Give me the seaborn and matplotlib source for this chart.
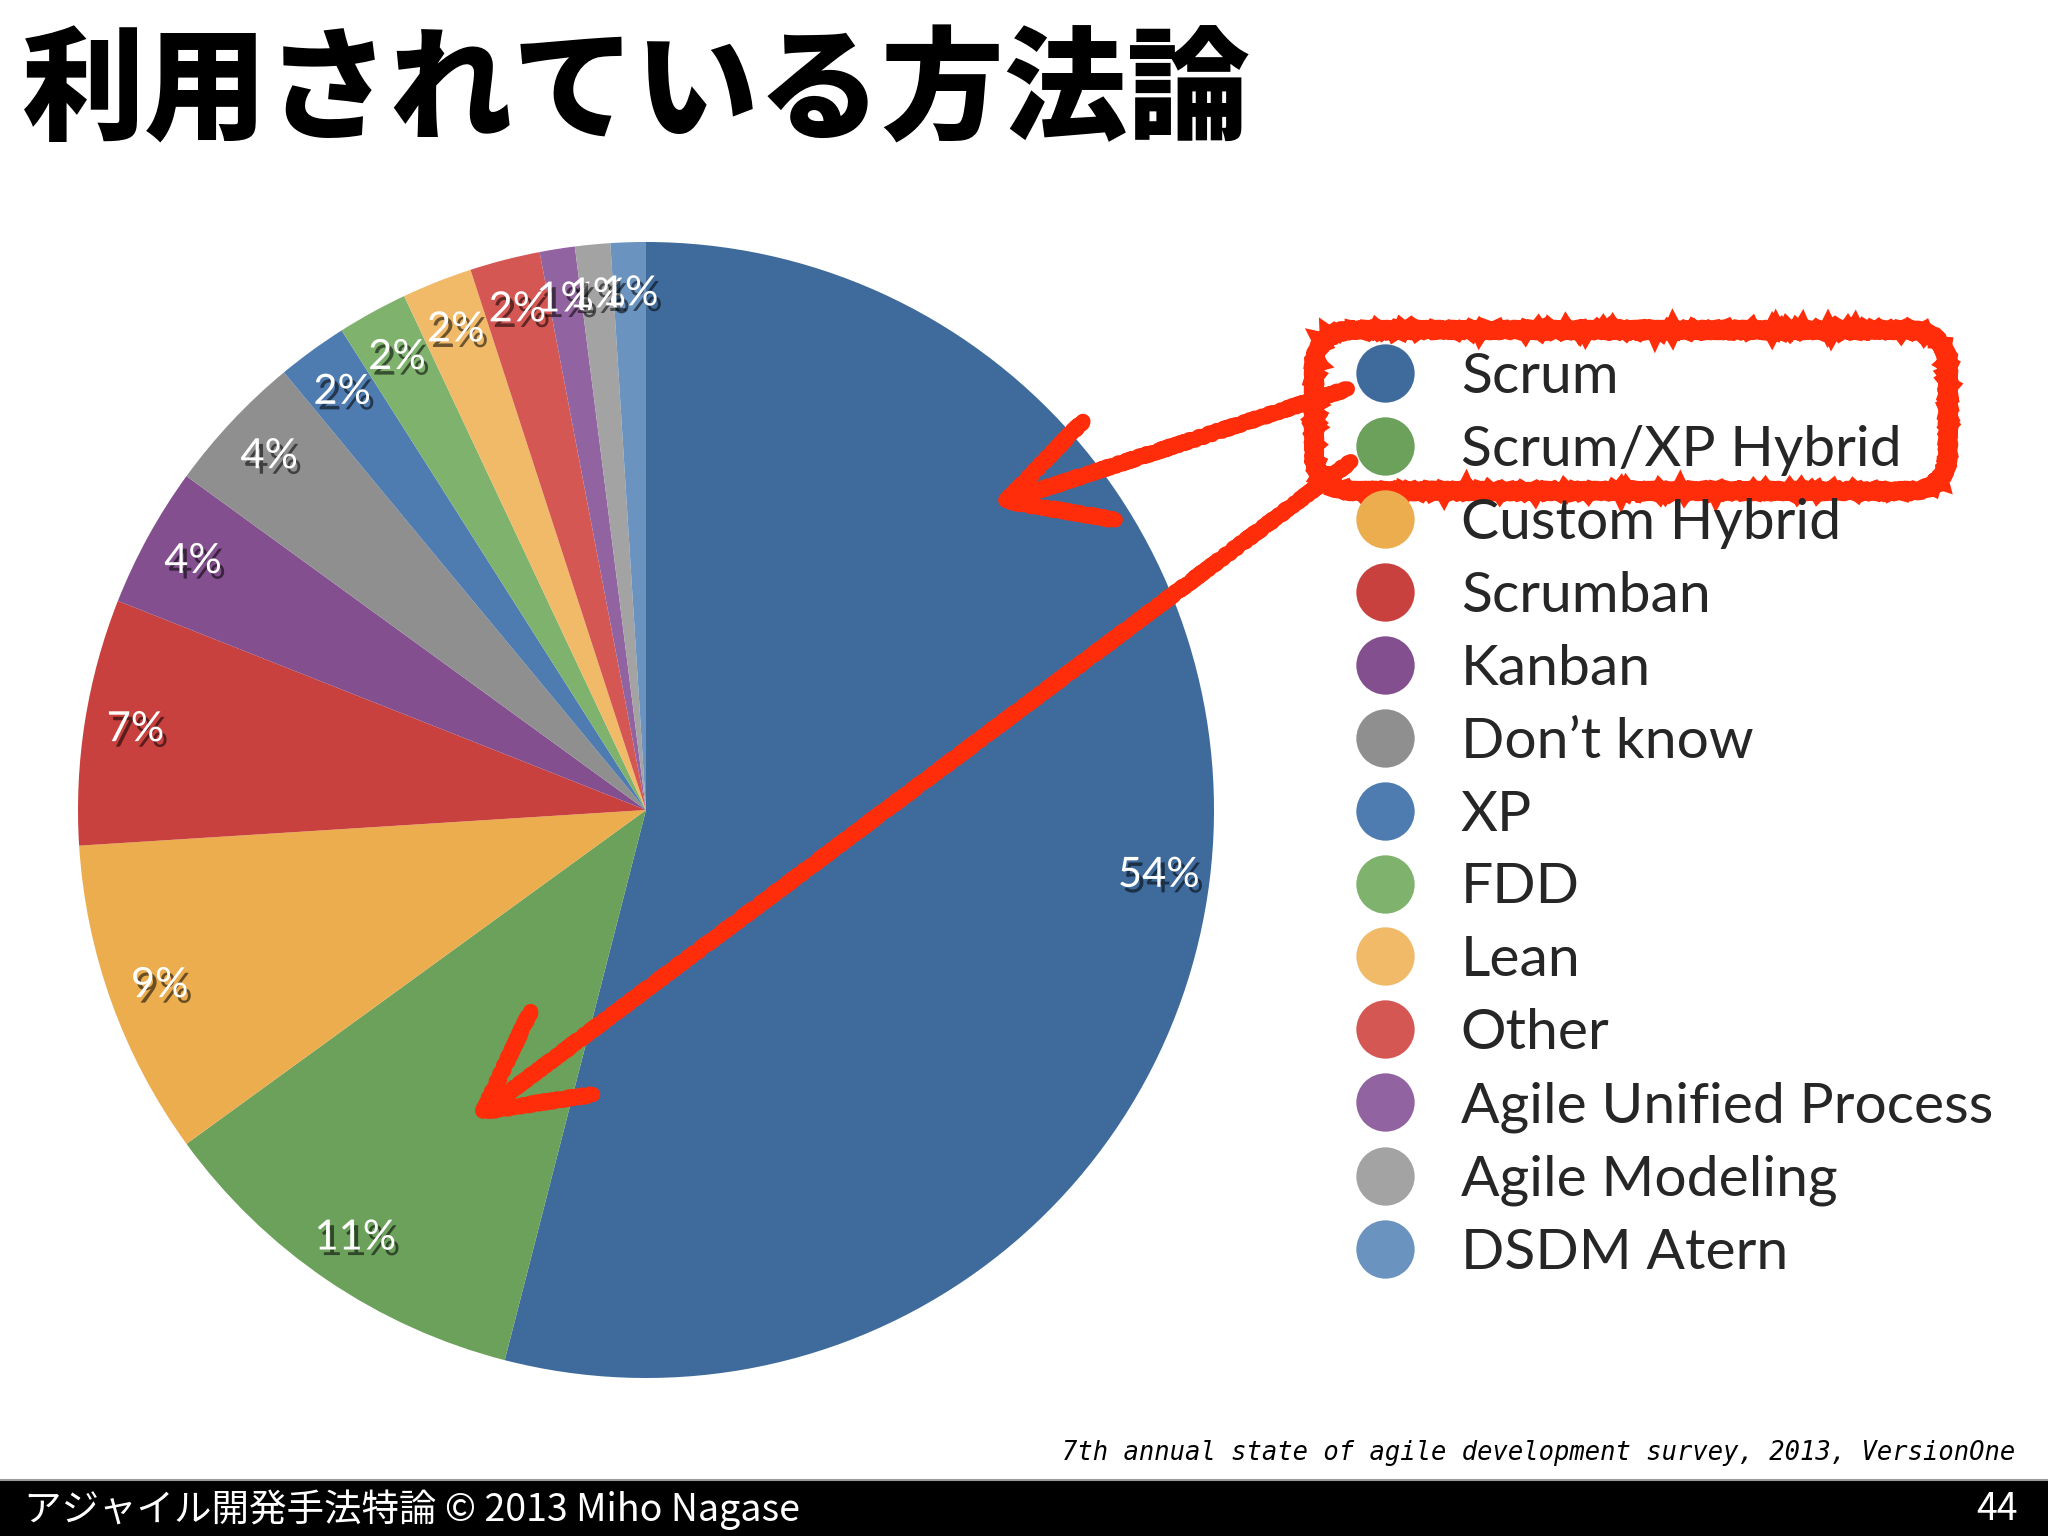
import matplotlib
matplotlib.use('Agg')
import matplotlib.pyplot as plt
import matplotlib.patheffects as pe
from matplotlib.lines import Line2D
from matplotlib.patches import FancyBboxPatch, FancyArrowPatch, Rectangle
import seaborn as sns

# データ
methods = ['Scrum', 'Scrum/XP Hybrid', 'Custom Hybrid', 'Scrumban', 'Kanban',
           'Don’t know', 'XP', 'FDD', 'Lean', 'Other',
           'Agile Unified Process', 'Agile Modeling', 'DSDM Atern']
shares = [54, 11, 9, 7, 4, 4, 2, 2, 2, 2, 1, 1, 1]
slice_colors = ['#3e6b9c', '#6ba15b', '#ecad4f', '#c9413e', '#834f8e',
                '#8f8f8f', '#4f7cb0', '#7eb26d', '#f1ba68', '#d55753',
                '#9163a0', '#a3a3a3', '#6a93bf']

sns.set_theme(style='white')
plt.rcParams['font.family'] = ['Lato', 'Noto Sans CJK JP', 'DejaVu Sans']

W, H = 2048, 1536
fig = plt.figure(figsize=(W / 100, H / 100), dpi=100)
fig.patch.set_facecolor('white')

# タイトル
fig.text(22 / W, 1 - 94 / H, '利用されている方法論', fontsize=88.5, fontweight='black',
         family=['Noto Sans CJK JP', 'DejaVu Sans'], color='black', va='center', ha='left')

# 円グラフ
ax = fig.add_axes([78 / W, 1 - 1378 / H, 1136 / W, 1136 / H])
palette = sns.color_palette(slice_colors)
wedges, _, pct_texts = ax.pie(shares, colors=palette, startangle=90, counterclock=False,
                              autopct=lambda p: f'{p:.0f}%', pctdistance=0.91,
                              wedgeprops=dict(linewidth=0),
                              textprops=dict(color='white', fontsize=30, family='Lato'))
for t in pct_texts:
    t.set_path_effects([pe.SimplePatchShadow(offset=(3, -4), shadow_rgbFace='black', alpha=0.55),
                        pe.Normal()])
ax.set_xlim(-1, 1)
ax.set_ylim(-1, 1)

# 凡例
handles = [Line2D([], [], marker='o', linestyle='', markersize=42, markerfacecolor=c,
                  markeredgewidth=0) for c in slice_colors]
fig.legend(handles, methods, loc='upper left', bbox_to_anchor=(1357 / W, 1 - 352 / H),
           frameon=False, fontsize=41, handlelength=1.0, handletextpad=0.82,
           labelspacing=0.385, borderpad=0, borderaxespad=0)

# 赤い手書きの囲みと矢印
ov = fig.add_axes([0, 0, 1, 1])
ov.set_xlim(0, W)
ov.set_ylim(H, 0)
ov.axis('off')
ov.patch.set_alpha(0)
red = '#ff2d0a'
box = FancyBboxPatch((1314, 330), 634, 161, boxstyle='round,pad=0,rounding_size=40',
                     fill=False, edgecolor=red, linewidth=13)
box.set_sketch_params(1.2, 8, 4)
ov.add_patch(box)
for start, tip in [((1350, 388), (988, 507)), ((1353, 460), (468, 1123))]:
    arr = FancyArrowPatch(start, tip, arrowstyle='->,head_length=3.2,head_width=1.7',
                          mutation_scale=22, color=red, linewidth=11, capstyle='round',
                          joinstyle='round')
    arr.set_sketch_params(1.2, 8, 4)
    ov.add_patch(arr)

# 出典
ov.text(2015, 1453, '7th annual state of agile development survey, 2013, VersionOne',
        family='DejaVu Sans Mono', style='italic', fontsize=18.4, ha='right', va='center',
        color='black')

# フッター
ov.add_patch(Rectangle((0, 1480), W, 56, facecolor='black', edgecolor='none'))
ov.plot([0, W], [1480, 1480], color='#9a9a9a', linewidth=1.5)
ov.text(24, 1510, 'アジャイル開発手法特論 © 2013 Miho Nagase', color='white', fontsize=27,
        family=['Noto Sans CJK JP', 'DejaVu Sans'], ha='left', va='center')
ov.text(2018, 1510, '44', color='white', fontsize=27,
        family=['Noto Sans CJK JP', 'DejaVu Sans'], ha='right', va='center')

fig.savefig('out.png', dpi=100)
